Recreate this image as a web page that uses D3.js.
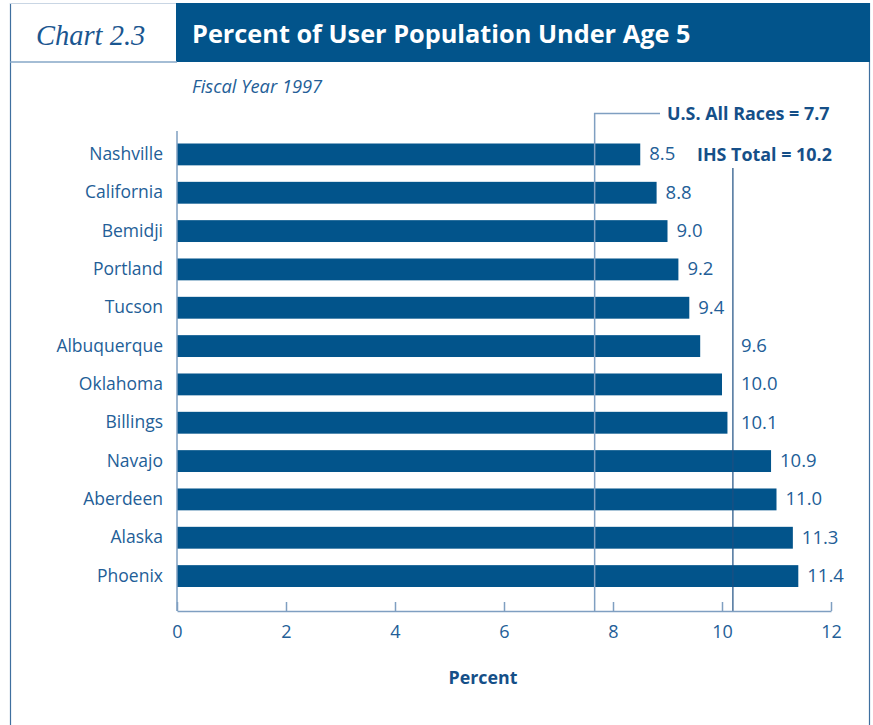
<!DOCTYPE html>
<html>
<head>
<meta charset="utf-8">
<script src="https://cdn.jsdelivr.net/npm/d3@7"></script>
<style>
  html, body { margin: 0; padding: 0; background: #ffffff; }
  svg { display: block; }
</style>
</head>
<body>
<svg id="chart" width="873" height="725"></svg>
<script>
// Percent of user population under age 5, by IHS area, FY 1997
const areas = ["Nashville", "California", "Bemidji", "Portland", "Tucson", "Albuquerque",
               "Oklahoma", "Billings", "Navajo", "Aberdeen", "Alaska", "Phoenix"];
const percentUnder5 = [8.5, 8.8, 9.0, 9.2, 9.4, 9.6, 10.0, 10.1, 10.9, 11.0, 11.3, 11.4];
const xTicks = [0, 2, 4, 6, 8, 10, 12];
const usAllRaces = 7.7;
const ihsTotal = 10.2;

const navy = "#02548b";
const textBlue = "#235e97";
const axisBlue = "#7f9fc1";
const font = "'Open Sans', 'Noto Sans', sans-serif";

const svg = d3.select("#chart");

// frame and header
svg.append("line").attr("x1", 10.5).attr("x2", 10.5).attr("y1", 3).attr("y2", 725)
  .attr("stroke", "#3f6f9f").attr("stroke-width", 1.2);
svg.append("line").attr("x1", 869.5).attr("x2", 869.5).attr("y1", 3).attr("y2", 725)
  .attr("stroke", "#3f6f9f").attr("stroke-width", 1.2);
svg.append("line").attr("x1", 10).attr("x2", 177).attr("y1", 3.5).attr("y2", 3.5)
  .attr("stroke", "#c9d6e4").attr("stroke-width", 1);
svg.append("rect").attr("x", 176).attr("y", 3).attr("width", 694).attr("height", 59)
  .attr("fill", navy);
svg.append("line").attr("x1", 10).attr("x2", 177).attr("y1", 62).attr("y2", 62)
  .attr("stroke", "#86a7c7").attr("stroke-width", 1.5);

svg.append("text").attr("x", 36).attr("y", 45)
  .attr("font-family", "'Liberation Serif', 'DejaVu Serif', serif")
  .attr("font-style", "italic").attr("font-size", 28.5).attr("fill", "#1a5690")
  .text("Chart 2.3");
svg.append("text").attr("x", 192).attr("y", 43)
  .attr("font-family", font).attr("font-weight", "bold").attr("font-size", 25.3)
  .attr("fill", "#ffffff").text("Percent of User Population Under Age 5");
svg.append("text").attr("x", 192).attr("y", 93)
  .attr("font-family", font).attr("font-style", "italic").attr("font-size", 18.3)
  .attr("fill", textBlue).text("Fiscal Year 1997");

// scales
const x = d3.scaleLinear().domain([0, 12]).range([177, 831]);
const y = d3.scaleBand().domain(areas).range([143.5, 587]).paddingInner(0.43).paddingOuter(0);
const axisY = 611;

// bars
svg.append("g").selectAll("rect").data(areas).join("rect")
  .attr("x", x(0))
  .attr("y", d => y(d))
  .attr("width", (d, i) => x(percentUnder5[i]) - x(0))
  .attr("height", y.bandwidth())
  .attr("fill", navy);

// reference lines
const xUS = x(usAllRaces) - 2;
const xIHS = x(ihsTotal);
svg.append("path")
  .attr("d", `M${xUS},${axisY} V113.5 H660`)
  .attr("fill", "none").attr("stroke", axisBlue).attr("stroke-width", 1.5);
svg.append("line").attr("x1", xIHS).attr("x2", xIHS).attr("y1", 168).attr("y2", axisY)
  .attr("stroke", "#1d4f82").attr("stroke-width", 1.2);

svg.append("text").attr("x", 667).attr("y", 120)
  .attr("font-family", font).attr("font-weight", "bold").attr("font-size", 17.9)
  .attr("fill", "#154f88").text(`U.S. All Races = ${usAllRaces}`);
svg.append("text").attr("x", 697).attr("y", 161)
  .attr("font-family", font).attr("font-weight", "bold").attr("font-size", 17.9)
  .attr("fill", "#154f88").text(`IHS Total = ${ihsTotal}`);

// value labels (pushed past the IHS line when the bar reaches near it)
svg.append("g").selectAll("text").data(areas).join("text")
  .attr("x", (d, i) => {
    const end = x(percentUnder5[i]) + 9;
    return end > xIHS - 30 && end < xIHS + 9 ? xIHS + 8 : end;
  })
  .attr("y", d => y(d) + y.bandwidth() / 2 + 1)
  .attr("dominant-baseline", "middle")
  .attr("font-family", font).attr("font-size", 18.5).attr("fill", textBlue)
  .text((d, i) => percentUnder5[i].toFixed(1));

// category labels
svg.append("g").selectAll("text").data(areas).join("text")
  .attr("x", 163)
  .attr("y", d => y(d) + y.bandwidth() / 2 + 1)
  .attr("dominant-baseline", "middle")
  .attr("text-anchor", "end")
  .attr("font-family", font).attr("font-size", 17.5).attr("fill", textBlue)
  .text(d => d);

// y axis line
svg.append("line").attr("x1", x(0)).attr("x2", x(0)).attr("y1", 131).attr("y2", axisY)
  .attr("stroke", axisBlue).attr("stroke-width", 1.5);

// x axis
const xAxis = svg.append("g").attr("transform", `translate(0,${axisY})`)
  .call(d3.axisBottom(x).tickValues(xTicks).tickSizeInner(-9).tickSizeOuter(0).tickPadding(14));
xAxis.select(".domain").attr("stroke", axisBlue).attr("stroke-width", 1.5);
xAxis.selectAll(".tick line").attr("stroke", axisBlue).attr("stroke-width", 1.5);
xAxis.selectAll(".tick text").attr("font-family", font).attr("font-size", 18)
  .attr("fill", textBlue);

svg.append("text").attr("x", 483).attr("y", 684).attr("text-anchor", "middle")
  .attr("font-family", font).attr("font-weight", "bold").attr("font-size", 17.8)
  .attr("fill", "#154f88").text("Percent");
</script>
</body>
</html>
